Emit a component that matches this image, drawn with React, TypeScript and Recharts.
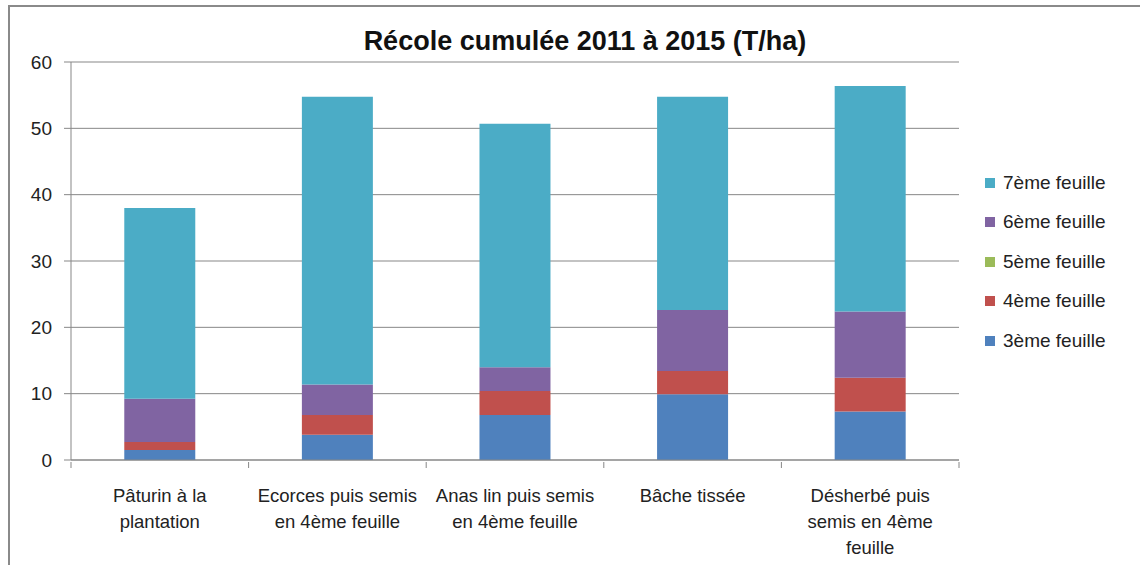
import { Bar, BarChart, CartesianGrid, Legend, XAxis, YAxis } from "recharts";

const categories = [
  ["Pâturin à la", "plantation"],
  ["Ecorces puis semis", "en 4ème feuille"],
  ["Anas lin puis semis", "en 4ème feuille"],
  ["Bâche tissée"],
  ["Désherbé puis", "semis en 4ème", "feuille"],
];

const feuille3 = [1.5, 3.8, 6.8, 9.9, 7.3];
const feuille4 = [1.2, 3.0, 3.6, 3.5, 5.1];
const feuille5 = [0, 0, 0, 0, 0];
const feuille6 = [6.55, 4.6, 3.6, 9.2, 10.0];
const feuille7 = [28.75, 43.35, 36.7, 32.15, 34.0];

const yTicks = [0, 10, 20, 30, 40, 50, 60];

const series = [
  { key: "f3", name: "3ème feuille", color: "#4F81BD", values: feuille3 },
  { key: "f4", name: "4ème feuille", color: "#C0504D", values: feuille4 },
  { key: "f5", name: "5ème feuille", color: "#9BBB59", values: feuille5 },
  { key: "f6", name: "6ème feuille", color: "#8064A2", values: feuille6 },
  { key: "f7", name: "7ème feuille", color: "#4BACC6", values: feuille7 },
];

const data = categories.map((lines, i) => {
  const row: Record<string, unknown> = { name: lines.join(" "), lines };
  series.forEach((s) => {
    row[s.key] = s.values[i];
  });
  return row;
});

const FONT = "'Liberation Sans', Arial, sans-serif";
const AXIS_COLOR = "#878787";
const WIDTH = 1140;
const HEIGHT = 565;
const PLOT_LEFT = 71;
const PLOT_RIGHT = 959;
const BAND = (PLOT_RIGHT - PLOT_LEFT) / categories.length;

function CategoryTick(props: any) {
  const { x, y, payload, index } = props;
  const lines: string[] = categories[payload.index ?? index] ?? [String(payload.value)];
  return (
    <g>
      <line x1={x - BAND / 2} x2={x - BAND / 2} y1={y} y2={y + 6} stroke={AXIS_COLOR} />
      {index === categories.length - 1 ? (
        <line x1={x + BAND / 2} x2={x + BAND / 2} y1={y} y2={y + 6} stroke={AXIS_COLOR} />
      ) : null}
      <text x={x} y={y} textAnchor="middle" fill="#222" fontSize={18.5} fontFamily={FONT}>
        {lines.map((line, i) => (
          <tspan key={i} x={x} dy={i === 0 ? 40 : 26}>
            {line}
          </tspan>
        ))}
      </text>
    </g>
  );
}

function LegendContent(props: any) {
  const items = [...(props.payload ?? [])].reverse();
  return (
    <div style={{ fontFamily: FONT, fontSize: 19, color: "#222" }}>
      {items.map((item: any) => (
        <div key={item.value} style={{ display: "flex", alignItems: "center", height: 39.5 }}>
          <span
            style={{
              width: 10,
              height: 10,
              background: item.color,
              marginRight: 8,
              display: "inline-block",
            }}
          />
          <span>{item.value}</span>
        </div>
      ))}
    </div>
  );
}

export default function App() {
  return (
    <div
      style={{
        position: "absolute",
        left: 0,
        top: 0,
        width: WIDTH,
        height: HEIGHT,
        background: "#fff",
        overflow: "hidden",
      }}
    >
      <div
        style={{
          position: "absolute",
          left: 8,
          top: 5,
          width: WIDTH,
          height: HEIGHT,
          borderTop: "2px solid #8a8a8a",
          borderLeft: "2px solid #8a8a8a",
        }}
      />
      <div
        style={{
          position: "absolute",
          left: 0,
          width: 1170,
          top: 26,
          textAlign: "center",
          fontFamily: FONT,
          fontWeight: "bold",
          fontSize: 27,
          color: "#111",
        }}
      >
        Récole cumulée 2011 à 2015 (T/ha)
      </div>
      <div style={{ position: "absolute", left: 0, top: 0 }}>
        <BarChart
          width={WIDTH}
          height={HEIGHT}
          data={data}
          margin={{ top: 62, right: WIDTH - PLOT_RIGHT, left: 0, bottom: 0 }}
          barCategoryGap="30%"
        >
          <CartesianGrid stroke={AXIS_COLOR} vertical={false} />
          <XAxis
            dataKey="name"
            height={105}
            axisLine={{ stroke: AXIS_COLOR }}
            tickLine={false}
            tickSize={0}
            interval={0}
            tick={<CategoryTick />}
          />
          <YAxis
            width={PLOT_LEFT}
            domain={[0, 60]}
            ticks={yTicks}
            axisLine={{ stroke: AXIS_COLOR }}
            tickLine={{ stroke: AXIS_COLOR }}
            tickSize={7}
            tickMargin={12}
            tick={{ fill: "#222", fontSize: 19, fontFamily: FONT }}
          />
          <Legend
            layout="vertical"
            align="center"
            verticalAlign="middle"
            content={<LegendContent />}
            wrapperStyle={{ position: "absolute", left: 985, top: 163, width: 150 }}
          />
          {series.map((s) => (
            <Bar
              key={s.key}
              dataKey={s.key}
              name={s.name}
              stackId="a"
              fill={s.color}
              isAnimationActive={false}
            />
          ))}
        </BarChart>
      </div>
    </div>
  );
}
